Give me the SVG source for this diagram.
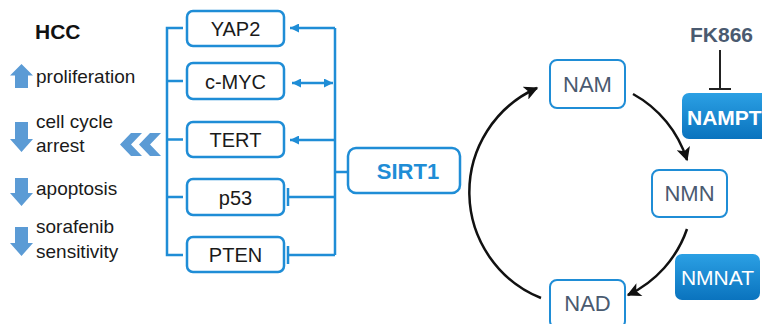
<svg xmlns="http://www.w3.org/2000/svg" width="762" height="324" viewBox="0 0 762 324">
  <defs>
    <style>
      .box { fill: #ffffff; stroke: #1f8dd6; stroke-width: 2.5; }
      .cyc { fill: #ffffff; stroke: #1f8dd6; stroke-width: 2; }
      .wire { fill: none; stroke: #1f8dd6; stroke-width: 2.5; }
      .flow { fill: none; stroke: #111111; stroke-width: 2.5; }
      .blk { fill: #5b9bd5; }
      .lbl { font-family: "Liberation Sans", Arial, sans-serif; font-size: 20px; fill: #1a1a1a; text-anchor: middle; }
      .side { font-family: "Liberation Sans", Arial, sans-serif; font-size: 19px; fill: #1a1a1a; }
      .met { font-family: "Liberation Sans", Arial, sans-serif; font-size: 22px; fill: #4a5a70; text-anchor: middle; }
      .enz { font-family: "Liberation Sans", Arial, sans-serif; font-size: 21px; fill: #ffffff; }
    </style>
    <marker id="ah" viewBox="0 0 10 10" refX="10" refY="5" markerUnits="userSpaceOnUse" markerWidth="9" markerHeight="9" orient="auto-start-reverse">
      <path d="M0,0 L10,5 L0,10 z" fill="#1f8dd6"/>
    </marker>
    <marker id="bh" viewBox="0 0 10 10" refX="9" refY="5" markerUnits="userSpaceOnUse" markerWidth="15" markerHeight="14" orient="auto">
      <path d="M0,0 L10,5 L0,10 L2.5,5 z" fill="#111111"/>
    </marker>
    <linearGradient id="enzFill" x1="0" y1="0" x2="0" y2="1">
      <stop offset="0" stop-color="#2ba0e4"/>
      <stop offset="1" stop-color="#0a73be"/>
    </linearGradient>
  </defs>

  <!-- HCC outcome column -->
  <g id="hcc">
    <text x="35" y="39" font-family="Liberation Sans, Arial, sans-serif" font-size="21" font-weight="bold" fill="#111111">HCC</text>
    <polygon class="blk" points="21.5,64 33,75.5 28,75.5 28,88 15,88 15,75.5 10,75.5"/>
    <text class="side" x="36" y="83">proliferation</text>
    <polygon class="blk" points="15,122 28,122 28,139 33,139 21.5,152 10,139 15,139"/>
    <text class="side" x="36" y="128">cell cycle</text>
    <text class="side" x="36" y="152">arrest</text>
    <polygon class="blk" points="15,178 28,178 28,193 33,193 21.5,206 10,193 15,193"/>
    <text class="side" x="36" y="195">apoptosis</text>
    <polygon class="blk" points="15,227 28,227 28,243 33,243 21.5,256 10,243 15,243"/>
    <text class="side" x="36" y="233">sorafenib</text>
    <text class="side" x="36" y="258">sensitivity</text>
  </g>

  <!-- double chevron -->
  <g id="chevron">
    <path class="blk" d="M120,144.5 L131,133 L142,133 L131,144.5 L142,156 L131,156 Z"/>
    <path class="blk" d="M139,144.5 L150,133 L161,133 L150,144.5 L161,156 L150,156 Z"/>
  </g>

  <!-- connectors -->
  <g id="connectors">
    <!-- left bracket -->
    <path class="wire" d="M183,28 H167 V255 H183 M167,81 H183 M167,139.5 H183 M167,197 H183"/>
    <!-- right bracket -->
    <path class="wire" d="M335,28 V255 M335,172 H348"/>
    <path class="wire" d="M335,28 H290" marker-end="url(#ah)"/>
    <path class="wire" d="M292,83 H333" marker-start="url(#ah)" marker-end="url(#ah)"/>
    <path class="wire" d="M335,140 H290" marker-end="url(#ah)"/>
    <path class="wire" d="M335,197 H288 M288,188 V206"/>
    <path class="wire" d="M335,255 H288 M288,246 V264"/>
    <!-- NAD salvage cycle -->
    <path class="flow" d="M633,94 A114,114 0 0 1 687,160" marker-end="url(#bh)"/>
    <path class="flow" d="M687,229 A114,114 0 0 1 628,295" marker-end="url(#bh)"/>
    <path class="flow" d="M541,298 A114,114 0 0 1 537,88" marker-end="url(#bh)"/>
    <!-- FK866 inhibition -->
    <path d="M720,50 V89 M709,89 H731" fill="none" stroke="#222222" stroke-width="2"/>
  </g>

  <!-- targets -->
  <g id="yap2"><rect class="box" x="187" y="11" width="97" height="35" rx="6"/><text class="lbl" x="235.5" y="35.5">YAP2</text></g>
  <g id="cmyc"><rect class="box" x="187" y="63" width="97" height="36" rx="6"/><text class="lbl" x="235.5" y="88.5">c-MYC</text></g>
  <g id="tert"><rect class="box" x="187" y="122" width="97" height="35" rx="6"/><text class="lbl" x="235.5" y="146.5">TERT</text></g>
  <g id="p53"><rect class="box" x="187" y="179" width="97" height="36" rx="6"/><text class="lbl" x="235.5" y="204.5">p53</text></g>
  <g id="pten"><rect class="box" x="187" y="237" width="97" height="35" rx="6"/><text class="lbl" x="235.5" y="261.5">PTEN</text></g>

  <g id="sirt1">
    <rect class="box" x="348" y="148" width="112" height="45" rx="8"/>
    <text x="408" y="179" font-family="Liberation Sans, Arial, sans-serif" font-size="22" font-weight="bold" fill="#1f8dd6" text-anchor="middle">SIRT1</text>
  </g>

  <!-- metabolites -->
  <g id="nam"><rect class="cyc" x="550" y="60" width="75" height="48" rx="7"/><text class="met" x="587.5" y="92">NAM</text></g>
  <g id="nmn"><rect class="cyc" x="652" y="170" width="75" height="47" rx="7"/><text class="met" x="689.5" y="201">NMN</text></g>
  <g id="nad"><rect class="cyc" x="550" y="280" width="75" height="48" rx="7"/><text class="met" x="587.5" y="311">NAD</text></g>

  <!-- enzymes -->
  <g id="fk866">
    <text x="690" y="42" font-family="Liberation Sans, Arial, sans-serif" font-size="21" font-weight="bold" fill="#4a5a70">FK866</text>
  </g>
  <g id="nampt">
    <rect x="682" y="93" width="90" height="46" rx="7" fill="url(#enzFill)"/>
    <text class="enz" x="687" y="125" font-size="23" font-weight="bold">NAMPT</text>
  </g>
  <g id="nmnat">
    <rect x="675" y="254" width="85" height="46" rx="7" fill="url(#enzFill)"/>
    <text class="enz" x="717.5" y="285" text-anchor="middle">NMNAT</text>
  </g>
</svg>
